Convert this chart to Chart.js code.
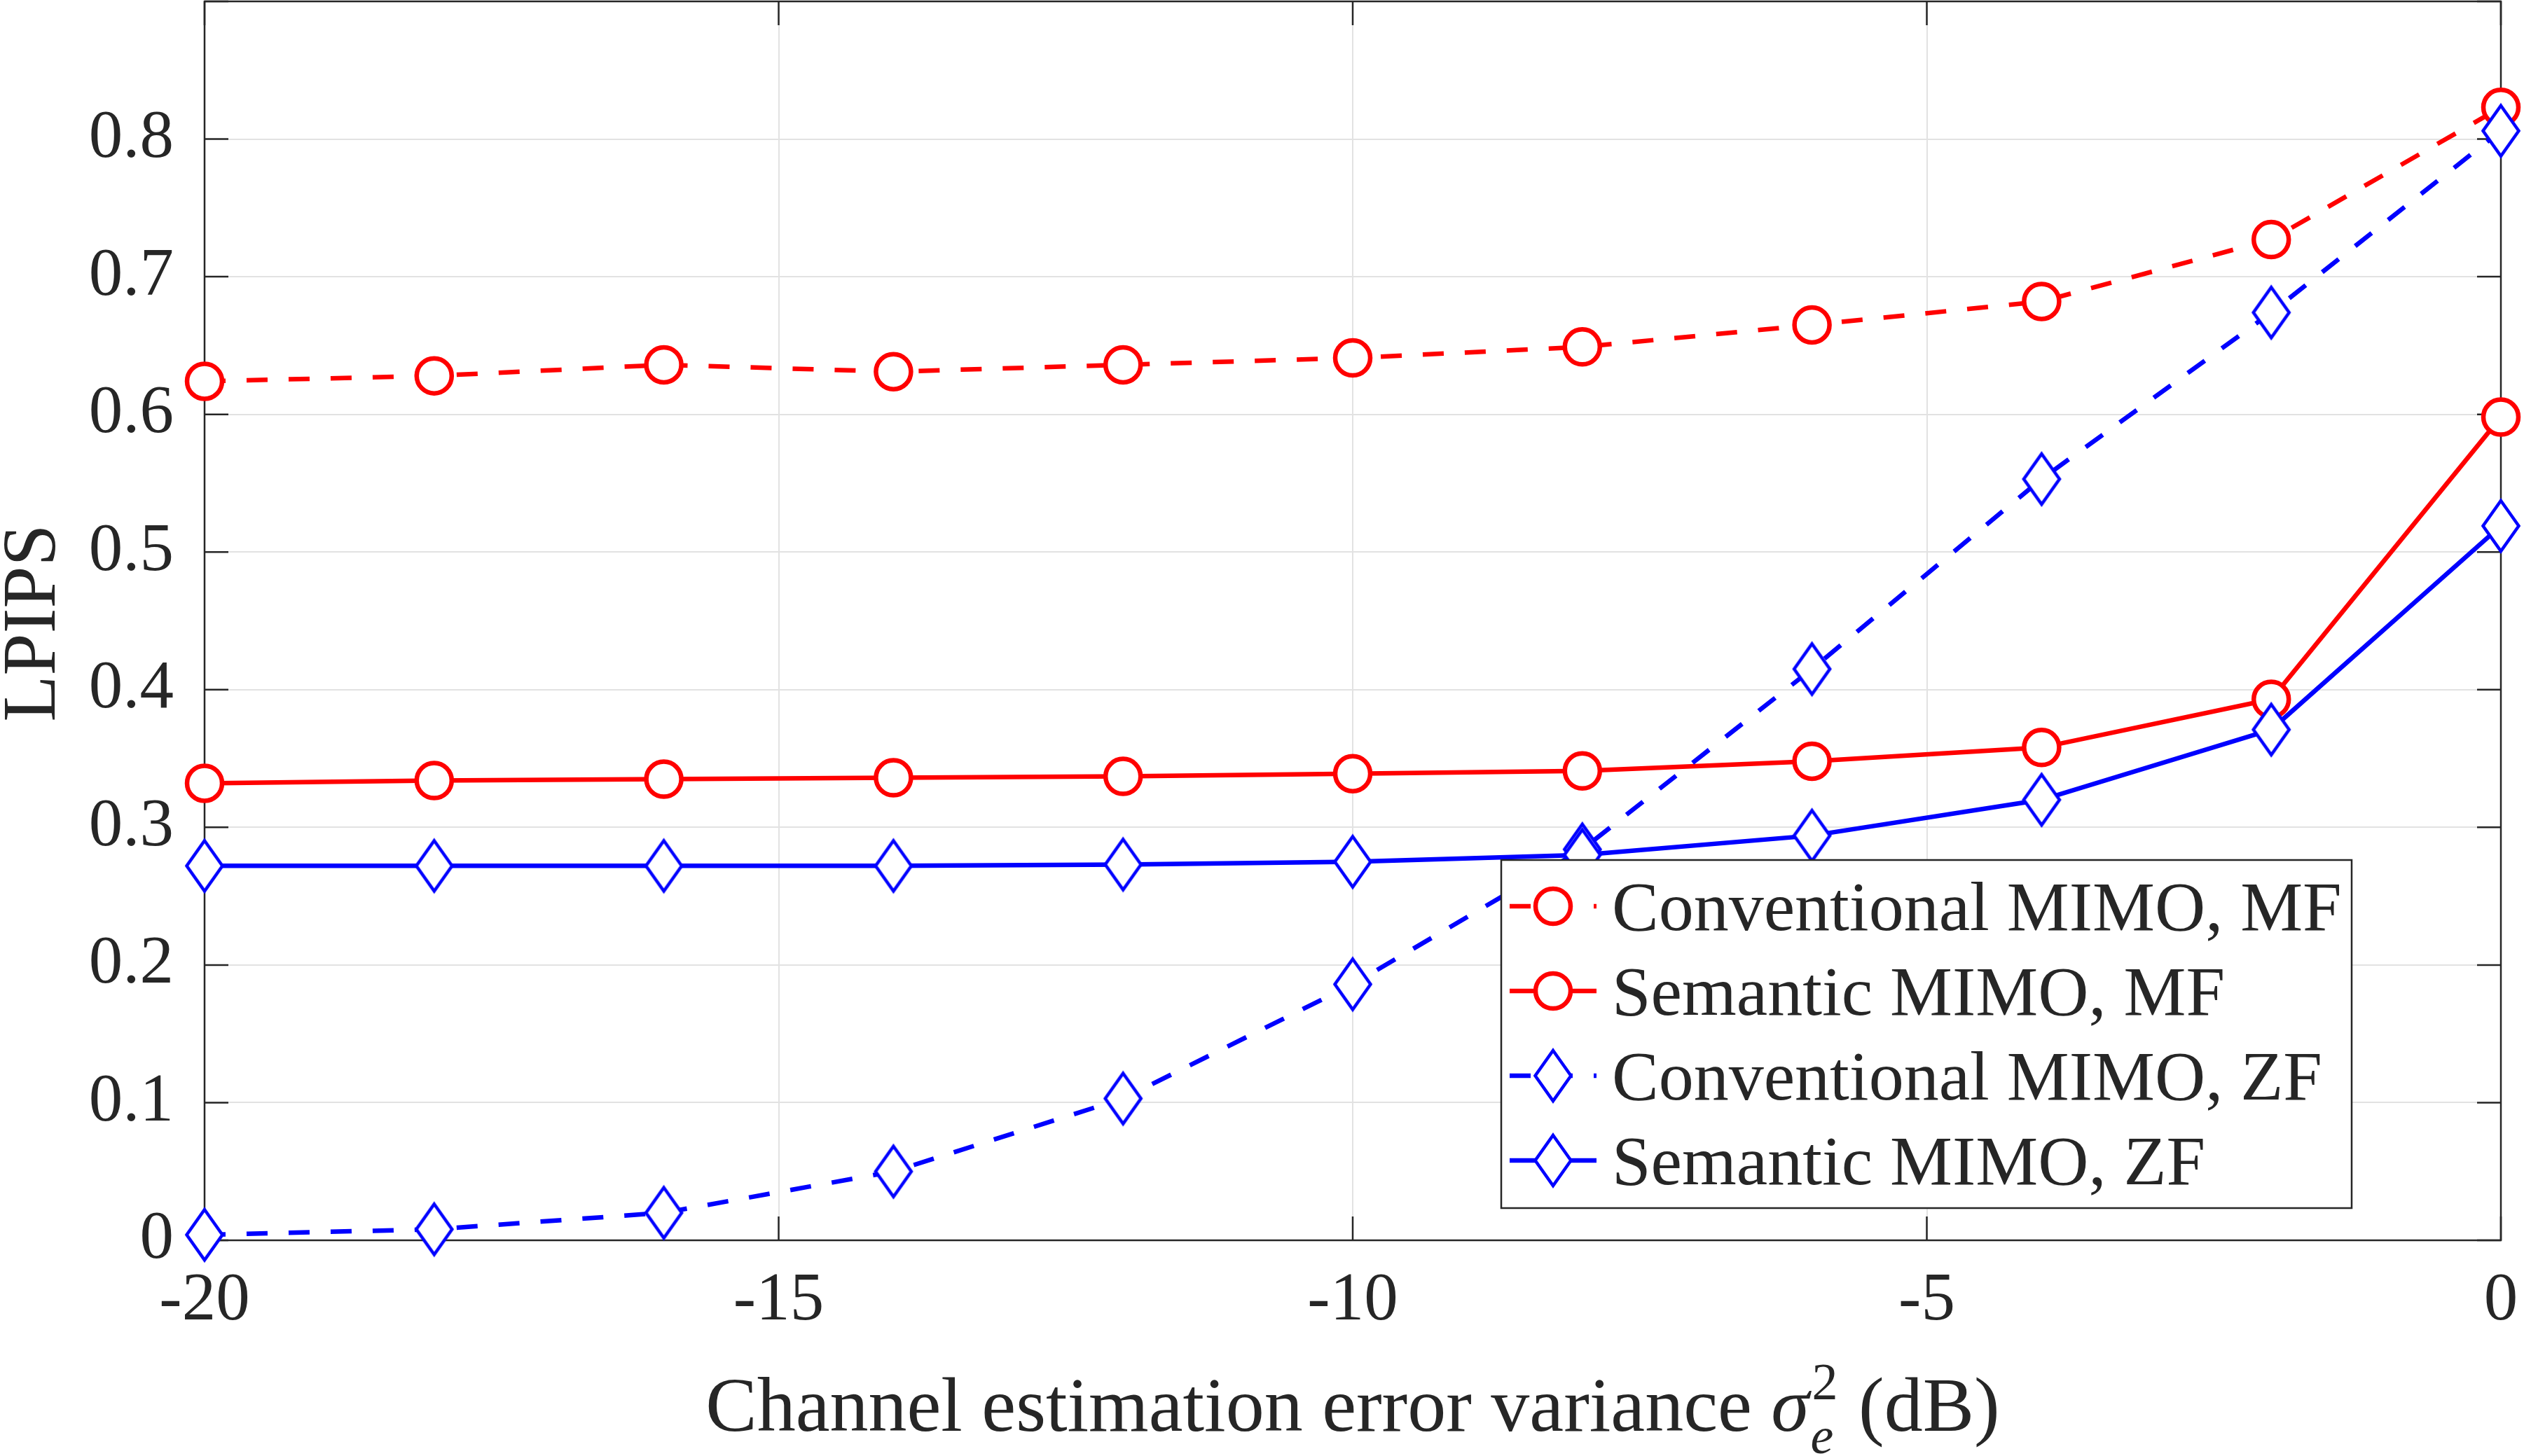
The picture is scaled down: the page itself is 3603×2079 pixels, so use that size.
<!DOCTYPE html>
<html><head><meta charset="utf-8">
<script src="https://cdn.jsdelivr.net/npm/chart.js@4.4.1/dist/chart.umd.min.js"></script>
<style>html,body{margin:0;padding:0;background:#fff;overflow:hidden}canvas{display:block}</style>
</head><body>
<canvas id="c" width="3603" height="2079"></canvas>
<script>
// ---- data ----
const xValues = [-20, -18, -16, -14, -12, -10, -8, -6, -4, -2, 0];
const convMF = [0.624, 0.628, 0.636, 0.631, 0.636, 0.641, 0.649, 0.665, 0.682, 0.727, 0.823];
const semMF  = [0.332, 0.334, 0.335, 0.336, 0.337, 0.339, 0.341, 0.348, 0.358, 0.393, 0.598];
const convZF = [0.004, 0.008, 0.020, 0.050, 0.103, 0.186, 0.284, 0.415, 0.553, 0.674, 0.806];
const semZF  = [0.272, 0.272, 0.272, 0.272, 0.273, 0.275, 0.280, 0.294, 0.320, 0.371, 0.519];
const seriesLabels = ['Conventional MIMO, MF', 'Semantic MIMO, MF', 'Conventional MIMO, ZF', 'Semantic MIMO, ZF'];
const xTickLabels = ['-20', '-15', '-10', '-5', '0'];
const yTickLabels = ['0', '0.1', '0.2', '0.3', '0.4', '0.5', '0.6', '0.7', '0.8'];
const xTitleMain = 'Channel estimation error variance ';
const xTitleSym = '\u03C3', xTitleSub = 'e', xTitleSup = '2', xTitleEnd = ' (dB)';
const yTitle = 'LPIPS';

// ---- styles ----
const RED = '#ff0000', BLUE = '#0000ff', AX = '#262626';
const FONT = '"Liberation Serif", "Times New Roman", serif';
const DASH = [30, 30];

function makeDiamond(color) {
  const c = document.createElement('canvas');
  c.width = 66; c.height = 92;
  const g = c.getContext('2d');
  g.beginPath();
  g.moveTo(33, 10); g.lineTo(58.5, 46); g.lineTo(33, 82); g.lineTo(7.5, 46); g.closePath();
  g.fillStyle = '#fff'; g.fill();
  g.lineWidth = 4.5; g.strokeStyle = color; g.lineJoin = 'miter'; g.stroke();
  return c;
}
const diamondBlue = makeDiamond(BLUE);
function pts(arr) { return xValues.map((x, i) => ({x: x, y: arr[i]})); }
const styles = [
  {color: RED, dash: DASH, marker: 'circle'},
  {color: RED, dash: [], marker: 'circle'},
  {color: BLUE, dash: DASH, marker: diamondBlue},
  {color: BLUE, dash: [], marker: diamondBlue}
];
const seriesData = [convMF, semMF, convZF, semZF];
const datasets = seriesData.map((arr, i) => ({
  label: seriesLabels[i], data: pts(arr),
  borderColor: styles[i].color, borderWidth: 6.5, borderDash: styles[i].dash,
  pointStyle: styles[i].marker, pointRadius: 25, pointBorderWidth: 6.5,
  pointBorderColor: styles[i].color, pointBackgroundColor: '#ffffff',
  tension: 0, fill: false, clip: false, order: 4 - i
}));

const axesPlugin = {
  id: 'axesBox',
  beforeDatasetsDraw(chart) {
    const {ctx, chartArea: a, scales} = chart;
    ctx.save();
    ctx.strokeStyle = AX; ctx.lineWidth = 2.5;
    const TL = 34;
    ctx.beginPath();
    scales.x.ticks.forEach(t => {
      const px = scales.x.getPixelForValue(t.value);
      ctx.moveTo(px, a.bottom); ctx.lineTo(px, a.bottom - TL);
      ctx.moveTo(px, a.top); ctx.lineTo(px, a.top + TL);
    });
    scales.y.ticks.forEach(t => {
      const py = scales.y.getPixelForValue(t.value);
      ctx.moveTo(a.left, py); ctx.lineTo(a.left + TL, py);
      ctx.moveTo(a.right, py); ctx.lineTo(a.right - TL, py);
    });
    ctx.stroke();
    ctx.strokeRect(a.left, a.top, a.right - a.left, a.bottom - a.top);
    // y title
    ctx.fillStyle = AX; ctx.font = '108px ' + FONT;
    ctx.textAlign = 'center'; ctx.textBaseline = 'alphabetic';
    ctx.save();
    ctx.translate(78, (a.top + a.bottom) / 2 + 3);
    ctx.rotate(-Math.PI / 2);
    ctx.fillText(yTitle, 0, 0);
    ctx.restore();
    // x title with sigma_e^2
    const fMain = '110px ' + FONT, fIt = 'italic 110px ' + FONT, fSmall = 'italic 74px ' + FONT, fSmallUp = '74px ' + FONT;
    ctx.font = fMain; const w1 = ctx.measureText(xTitleMain).width;
    ctx.font = fIt; const w2 = ctx.measureText(xTitleSym).width;
    ctx.font = fSmall; const w3 = ctx.measureText(xTitleSub).width;
    ctx.font = fSmallUp; const w4 = ctx.measureText(xTitleSup).width;
    const wS = Math.max(w3, w4) + 6;
    ctx.font = fMain; const w5 = ctx.measureText(xTitleEnd).width;
    const total = w1 + w2 + wS + w5;
    let x0 = (a.left + a.right) / 2 - total / 2;
    const base = 2043;
    ctx.textAlign = 'left';
    ctx.font = fMain; ctx.fillText(xTitleMain, x0, base); x0 += w1;
    ctx.font = fIt; ctx.fillText(xTitleSym, x0, base); x0 += w2;
    ctx.font = fSmall; ctx.fillText(xTitleSub, x0 + 2, base + 32);
    ctx.font = fSmallUp; ctx.fillText(xTitleSup, x0 + 4, base - 45); x0 += wS;
    ctx.font = fMain; ctx.fillText(xTitleEnd, x0, base);
    ctx.restore();
  },
  afterDraw(chart) {
    const {ctx} = chart;
    const L = 2143, T = 1228, R = 3357, B = 1725;
    ctx.save();
    ctx.fillStyle = '#fff'; ctx.fillRect(L, T, R - L, B - T);
    ctx.strokeStyle = AX; ctx.lineWidth = 2.5; ctx.strokeRect(L, T, R - L, B - T);
    chart.data.datasets.forEach((ds, i) => {
      const y = 1294 + i * 121;
      ctx.save();
      ctx.strokeStyle = ds.borderColor; ctx.lineWidth = ds.borderWidth;
      ctx.setLineDash(ds.borderDash || []);
      ctx.beginPath(); ctx.moveTo(2155, y); ctx.lineTo(2279, y); ctx.stroke();
      ctx.restore();
      const cx = 2217;
      if (ds.pointStyle === 'circle') {
        ctx.beginPath(); ctx.arc(cx, y, ds.pointRadius, 0, Math.PI * 2);
        ctx.fillStyle = '#fff'; ctx.fill();
        ctx.lineWidth = ds.pointBorderWidth; ctx.strokeStyle = ds.pointBorderColor; ctx.stroke();
      } else {
        const im = ds.pointStyle;
        ctx.drawImage(im, cx - im.width / 2, y - im.height / 2);
      }
      ctx.fillStyle = AX; ctx.font = '100px ' + FONT;
      ctx.textAlign = 'left'; ctx.textBaseline = 'alphabetic';
      ctx.fillText(ds.label, 2301, y + 34);
    });
    ctx.restore();
  }
};

new Chart(document.getElementById('c'), {
  type: 'line',
  data: {datasets: datasets},
  options: {
    responsive: false, animation: false, devicePixelRatio: 1,
    layout: {autoPadding: false, padding: {left: 0, top: 2, right: 33, bottom: 0}},
    plugins: {legend: {display: false}, tooltip: {enabled: false}, title: {display: false}},
    scales: {
      x: {
        type: 'linear', min: -20, max: 0,
        ticks: {stepSize: 5, padding: 29, color: AX, font: {family: FONT, size: 97},
          maxRotation: 0, autoSkip: false,
          callback: (v, i) => xTickLabels[i] !== undefined ? xTickLabels[i] : ''},
        grid: {color: '#e2e2e2', lineWidth: 2, drawTicks: false},
        border: {display: false},
        afterFit: s => { s.height = 308; s.paddingLeft = 0; s.paddingRight = 0; }
      },
      y: {
        type: 'linear', min: 0, max: 0.9,
        ticks: {stepSize: 0.1, padding: 44, color: AX, font: {family: FONT, size: 97},
          autoSkip: false,
          callback: (v, i) => yTickLabels[i] !== undefined ? yTickLabels[i] : ''},
        grid: {color: '#e2e2e2', lineWidth: 2, drawTicks: false},
        border: {display: false},
        afterFit: s => { s.width = 292; s.paddingTop = 0; s.paddingBottom = 0; }
      }
    }
  },
  plugins: [axesPlugin]
});
</script>
</body></html>
